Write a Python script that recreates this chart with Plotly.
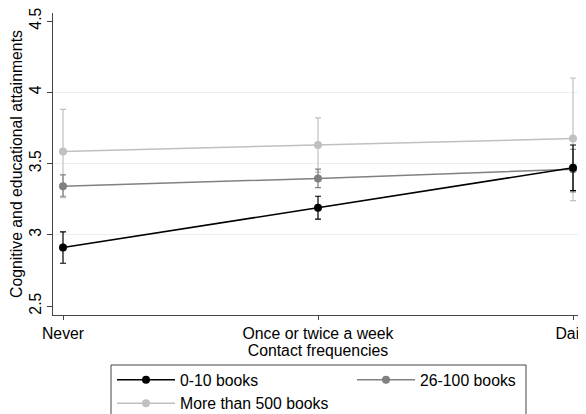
import plotly.graph_objects as go

categories = ["Never", "Once or twice a week", "Daily"]
x_pos = [0, 1, 2]

series_names = ["0-10 books", "26-100 books", "More than 500 books"]
low_books = [2.91, 3.19, 3.47]
low_books_hi = [3.02, 3.27, 3.63]
low_books_lo = [2.80, 3.11, 3.31]

mid_books = [3.34, 3.395, 3.46]
mid_books_hi = [3.42, 3.46, 3.60]
mid_books_lo = [3.27, 3.33, 3.30]

high_books = [3.585, 3.63, 3.675]
high_books_hi = [3.88, 3.82, 4.10]
high_books_lo = [3.26, 3.44, 3.24]

colors = ["#000000", "#808080", "#c0c0c0"]

y_ticks = [2.5, 3, 3.5, 4, 4.5]
grid_ticks = [3, 3.5, 4]

# The page body has an 8px default margin; the figure is sized/placed to compensate.
OFF = 8
W, H = 586 - OFF, 414 - OFF
L, R, T, B = 53 - OFF, 586 - 583, 13 - OFF, 414 - 315
PW, PH = W - L - R, H - T - B


def px_x(v):
    return (v - OFF - L) / PW


def px_y(v):
    return (H - B - (v - OFF)) / PH


fig = go.Figure()
data = [
    (low_books, low_books_hi, low_books_lo),
    (mid_books, mid_books_hi, mid_books_lo),
    (high_books, high_books_hi, high_books_lo),
]
order = [2, 1, 0]
for i in order:
    y, hi, lo = data[i]
    fig.add_trace(go.Scatter(
        x=x_pos, y=y, mode="lines+markers", name=series_names[i],
        line=dict(color=colors[i], width=1.5),
        marker=dict(color=colors[i], size=8),
        error_y=dict(type="data", symmetric=False,
                     array=[h - v for h, v in zip(hi, y)],
                     arrayminus=[v - l for l, v in zip(lo, y)],
                     color=colors[i], thickness=1.2, width=3),
        legendrank=i + 1,
    ))

fig.add_trace(go.Scatter(x=[0], y=[3], yaxis="y2", mode="markers",
                         marker=dict(opacity=0), showlegend=False, hoverinfo="skip"))

yr = [2.5 - 9 / 142.5, 4.5 + 8 / 142.5]
FONT = "Liberation Sans, Arial, sans-serif"
FS = 15.8
fig.update_layout(
    width=W, height=H,
    margin=dict(l=L, r=R, t=T, b=B, autoexpand=False),
    paper_bgcolor="white", plot_bgcolor="white",
    font=dict(family=FONT, size=FS, color="#000"),
    xaxis=dict(range=[-10 / 255, 2 + 10 / 255], tickvals=x_pos, ticktext=categories,
               showgrid=False, zeroline=False, showline=True, linecolor="#444",
               linewidth=1, ticks="outside", ticklen=4, tickcolor="#444",
               ticklabeloverflow="allow", automargin=False,
               title=dict(text="Contact frequencies", standoff=0, font=dict(size=FS))),
    yaxis=dict(range=yr, tickvals=y_ticks, ticktext=["2.5", "3", "3.5", "4", "4.5"],
               tickangle=-90, showgrid=False, zeroline=False, showline=True,
               linecolor="#444", linewidth=1, ticks="outside", ticklen=5, tickcolor="#444",
               automargin=False, ticklabeloverflow="allow",
               title=dict(text="Cognitive and educational attainments", standoff=1,
                          font=dict(size=FS))),
    yaxis2=dict(range=yr, overlaying="y", tickvals=grid_ticks, showticklabels=False,
                showgrid=True, gridcolor="#e6f0f2", gridwidth=1, zeroline=False,
                showline=False, layer="below traces"),
    legend=dict(orientation="h", x=px_x(112), y=px_y(363),
                xanchor="left", yanchor="top", borderwidth=0,
                entrywidth=167, itemwidth=58, traceorder="normal", font=dict(size=FS),
                bgcolor="rgba(0,0,0,0)", tracegroupgap=0),
    showlegend=True,
    shapes=[dict(type="rect", xref="paper", yref="paper",
                 x0=px_x(111), x1=px_x(526), y0=px_y(365), y1=px_y(430),
                 line=dict(color="#444", width=1), fillcolor="rgba(0,0,0,0)",
                 layer="above")],
)
fig.write_html("out.html")
